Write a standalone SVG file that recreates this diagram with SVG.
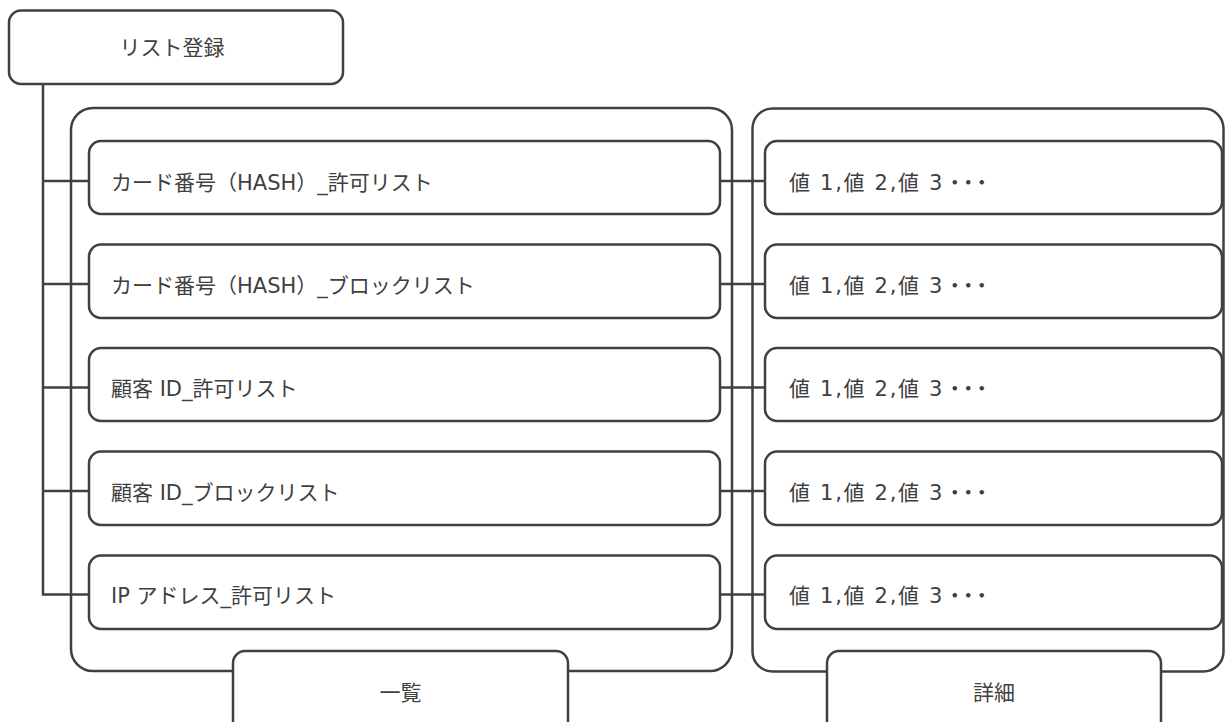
<svg xmlns="http://www.w3.org/2000/svg" width="1225" height="722" viewBox="0 0 1225 722">
<style>
.box{fill:#ffffff;stroke:#404040;stroke-width:2.5}
.cont{fill:none;stroke:#404040;stroke-width:2.5}
.conn{fill:none;stroke:#404040;stroke-width:2.5}
text{font-family:"DejaVu Sans","Noto Sans CJK JP",sans-serif;font-size:21px;fill:#404040}
.c{text-anchor:middle}
.val{letter-spacing:1.7px}
.dots{letter-spacing:-7.5px}
</style>
<rect width="1225" height="722" fill="#ffffff"/>
<g id="list-container">
<rect class="cont" x="71" y="108" width="661" height="563" rx="22" ry="22"/>
</g>
<g id="detail-container">
<rect class="cont" x="752.5" y="108.5" width="471" height="563" rx="20" ry="20"/>
</g>
<g id="connectors">
<path class="conn" d="M43 84V594.5H89M43 181H89M43 284H89M43 387.5H89M43 491H89"/>
<path class="conn" d="M720 181H765M720 284H765M720 387.5H765M720 491H765M720 594.5H765"/>
</g>
<g id="root">
<rect class="box" x="9" y="10.5" width="334" height="73.5" rx="12" ry="12"/>
<text class="c" x="172" y="55">リスト登録</text>
</g>
<g id="row1">
<rect class="box" x="89" y="141" width="631" height="73" rx="12" ry="12"/>
<text x="111" y="189.5">カード番号（HASH）_許可リスト</text>
</g>
<g id="row2">
<rect class="box" x="89" y="244.5" width="631" height="73.5" rx="12" ry="12"/>
<text x="111" y="292.5">カード番号（HASH）_ブロックリスト</text>
</g>
<g id="row3">
<rect class="box" x="89" y="348" width="631" height="73" rx="12" ry="12"/>
<text x="111" y="395.5">顧客 ID_許可リスト</text>
</g>
<g id="row4">
<rect class="box" x="89" y="451.5" width="631" height="73.5" rx="12" ry="12"/>
<text x="111" y="499.5">顧客 ID_ブロックリスト</text>
</g>
<g id="row5">
<rect class="box" x="89" y="555.5" width="631" height="73.5" rx="12" ry="12"/>
<text x="111" y="603">IP アドレス_許可リスト</text>
</g>
<g id="detail1">
<rect class="box" x="765" y="141" width="457" height="73" rx="12" ry="12"/>
<text class="val" x="789" y="189.5">値 1,値 2,値 3<tspan class="dots">・・・</tspan></text>
</g>
<g id="detail2">
<rect class="box" x="765" y="244.5" width="457" height="73.5" rx="12" ry="12"/>
<text class="val" x="789" y="292.5">値 1,値 2,値 3<tspan class="dots">・・・</tspan></text>
</g>
<g id="detail3">
<rect class="box" x="765" y="348" width="457" height="73" rx="12" ry="12"/>
<text class="val" x="789" y="395.5">値 1,値 2,値 3<tspan class="dots">・・・</tspan></text>
</g>
<g id="detail4">
<rect class="box" x="765" y="451.5" width="457" height="73.5" rx="12" ry="12"/>
<text class="val" x="789" y="499.5">値 1,値 2,値 3<tspan class="dots">・・・</tspan></text>
</g>
<g id="detail5">
<rect class="box" x="765" y="555.5" width="457" height="73.5" rx="12" ry="12"/>
<text class="val" x="789" y="603">値 1,値 2,値 3<tspan class="dots">・・・</tspan></text>
</g>
<g id="label-list">
<rect class="box" x="233" y="651" width="335" height="90" rx="12" ry="12"/>
<text class="c" x="400.5" y="700">一覧</text>
</g>
<g id="label-detail">
<rect class="box" x="827" y="651" width="334" height="90" rx="12" ry="12"/>
<text class="c" x="994" y="700">詳細</text>
</g>
</svg>
